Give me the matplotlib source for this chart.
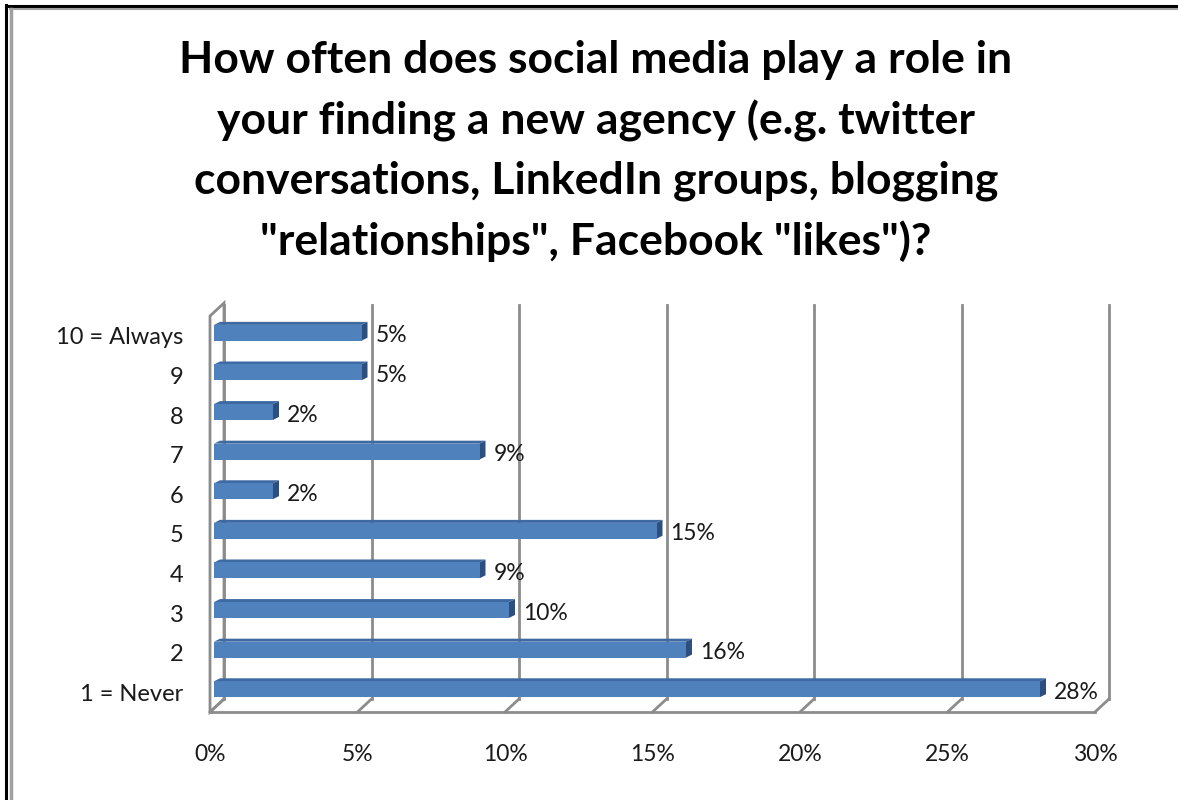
import matplotlib
matplotlib.use("Agg")
import matplotlib.pyplot as plt
from matplotlib.patches import Polygon, Rectangle
from matplotlib.lines import Line2D

plt.rcParams['font.family'] = ['Lato', 'DejaVu Sans']

title = ('How often does social media play a role in\n'
         'your finding a new agency (e.g. twitter\n'
         'conversations, LinkedIn groups, blogging\n'
         '"relationships", Facebook "likes")?')
categories = ['1 = Never', '2', '3', '4', '5', '6', '7', '8', '9', '10 = Always']
shares = [28, 16, 10, 9, 15, 2, 9, 2, 5, 5]
xticks = [0, 5, 10, 15, 20, 25, 30]

W, H = 1178, 800
fig = plt.figure(figsize=(W / 100, H / 100), dpi=100)

# front plane of the 3-D plot box, in pixels
x0, x1, y0, y1 = 210, 1095, 88, 484
ax = fig.add_axes([x0 / W, y0 / H, (x1 - x0) / W, (y1 - y0) / H])
ax.set_xlim(0, 30)
ax.set_ylim(-0.5, 9.5)
for s in ax.spines.values():
    s.set_visible(False)

# pixel -> data scale factors for the depth offsets
px_x = 30 / (x1 - x0)
px_y = 10 / (y1 - y0)


def off(dx, dy):
    return dx * px_x, dy * px_y


grid_c = '#8c8c8c'
DX, DY = off(14, 13)
lo, hi = -0.5, 9.5

# left wall outline
ax.add_patch(Polygon([(0, lo), (0, hi), (DX, hi + DY), (DX, lo + DY)],
                     closed=True, fill=False, ec=grid_c, lw=2, zorder=1,
                     clip_on=False))
# floor front edge
ax.add_line(Line2D([0, 30], [lo, lo], color=grid_c, lw=2, zorder=1, clip_on=False))

# back wall gridlines plus their diagonals on the floor
for t in xticks:
    ax.add_line(Line2D([t + DX, t + DX], [lo + DY, hi + DY - 0.05], color=grid_c,
                       lw=2, zorder=1, clip_on=False))
    ax.add_line(Line2D([t, t + DX], [lo, lo + DY], color=grid_c,
                       lw=2, zorder=1, clip_on=False))

# 3-D bars: front face pushed into the box, then top and side faces
fx, fy = off(4, 3)
dx, dy = off(6, 3)
h = 0.4
front_c, top_c, side_c = '#4F81BD', '#3E6AA3', '#2C4F7F'
for i, v in enumerate(shares):
    left, right = fx, v + fx
    bot, top = i - h / 2 + fy, i + h / 2 + fy
    ax.add_patch(Rectangle((left, bot), v, h, fc=front_c, ec='none',
                           zorder=3, clip_on=False))
    ax.add_patch(Polygon([(left, top), (right, top),
                          (right + dx, top + dy), (left + dx, top + dy)],
                         closed=True, fc=top_c, ec='none', zorder=2, clip_on=False))
    ax.add_patch(Polygon([(right, bot), (right, top),
                          (right + dx, top + dy), (right + dx, bot + dy)],
                         closed=True, fc=side_c, ec='none', zorder=2, clip_on=False))
    ax.annotate(f'{v}%', (v, i), xytext=(18, 0), textcoords='offset pixels',
                ha='left', va='center', fontsize=16.5, color='#1a1a1a', zorder=4)

ax.set_yticks(range(len(categories)))
ax.set_yticklabels(categories)
ax.set_xticks(xticks)
ax.set_xticklabels([f'{t}%' for t in xticks])
ax.tick_params(axis='y', length=0, pad=19, labelsize=17, labelcolor='#1a1a1a')
ax.tick_params(axis='x', length=0, pad=23, labelsize=16.5, labelcolor='#1a1a1a')

fig.text(596 / W, 1 - 151 / H, title, ha='center', va='center', fontsize=32,
         fontweight='bold', linespacing=1.56, color='black')

# chart frame (black rule with a grey inner rule)
fig.add_artist(Line2D([6 / W, 6 / W], [0, 1 - 5 / H], color='black', lw=2.2,
                      transform=fig.transFigure))
fig.add_artist(Line2D([6 / W, 1], [1 - 6 / H, 1 - 6 / H], color='black', lw=2.2,
                      transform=fig.transFigure))
fig.add_artist(Line2D([10.5 / W, 10.5 / W], [0, 1 - 9 / H], color='#a0a0a0', lw=2.5,
                      transform=fig.transFigure))
fig.add_artist(Line2D([10 / W, 1], [1 - 9 / H, 1 - 9 / H], color='#a0a0a0', lw=1.5,
                      transform=fig.transFigure))

fig.savefig('out.png', dpi=100)
